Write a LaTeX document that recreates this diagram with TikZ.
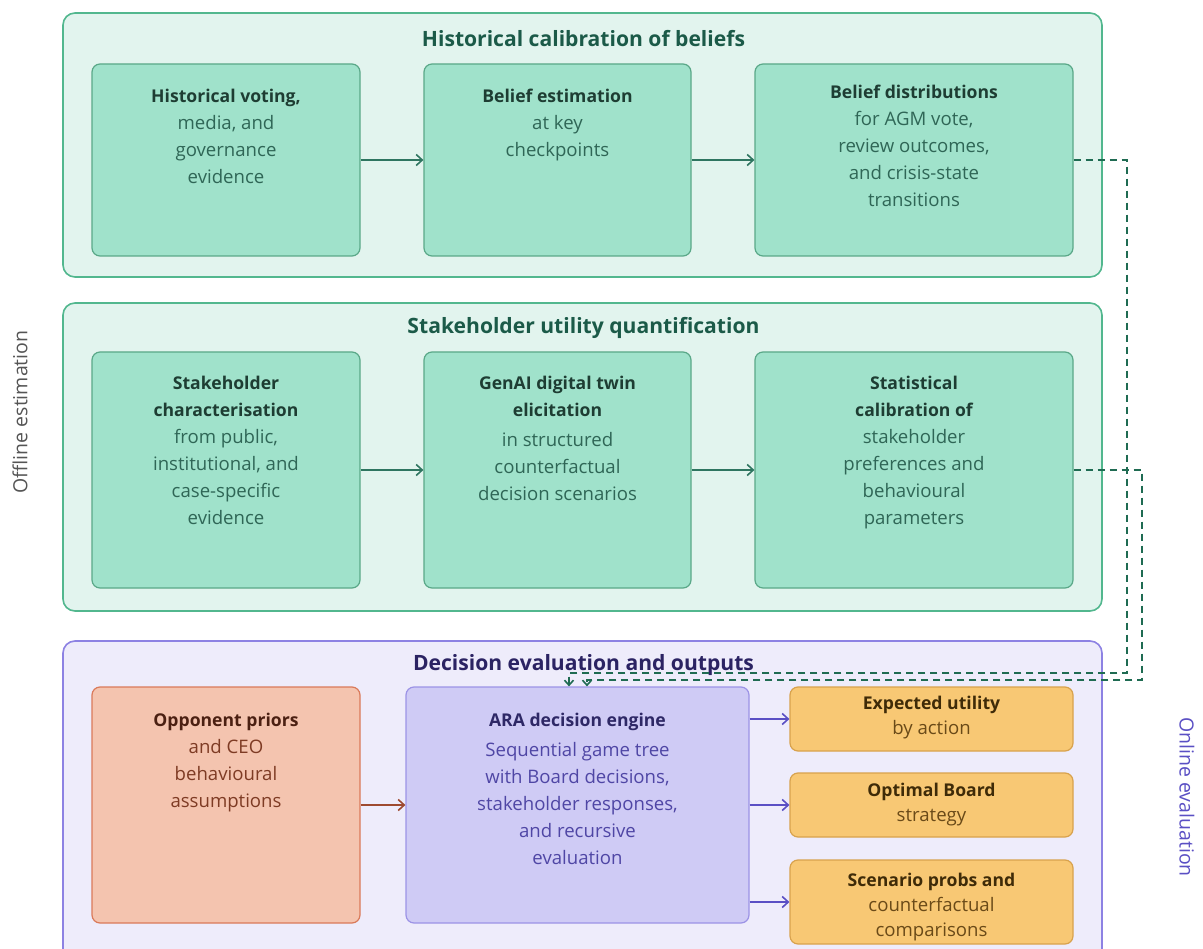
\documentclass[tikz,border=0pt]{standalone}
\usepackage{fontspec}
\setmainfont{Open Sans}
\usetikzlibrary{arrows.meta}
\definecolor{grpGfill}{HTML}{E2F4EE}
\definecolor{grpGdraw}{HTML}{52B78E}
\definecolor{boxGfill}{HTML}{A0E2CB}
\definecolor{boxGdraw}{HTML}{5AA888}
\definecolor{titleG}{HTML}{1B5A48}
\definecolor{boldG}{HTML}{1E3D33}
\definecolor{bodyG}{HTML}{2F6656}
\definecolor{arrG}{HTML}{2E7560}
\definecolor{dashG}{HTML}{1F6B52}
\definecolor{grpPfill}{HTML}{EEECFB}
\definecolor{grpPdraw}{HTML}{8D82E3}
\definecolor{titleP}{HTML}{2B2363}
\definecolor{araFill}{HTML}{CFCBF5}
\definecolor{araDraw}{HTML}{9C93E6}
\definecolor{boldP}{HTML}{2E2866}
\definecolor{bodyP}{HTML}{4F46A5}
\definecolor{arrP}{HTML}{5A4FC4}
\definecolor{oppFill}{HTML}{F4C4AF}
\definecolor{oppDraw}{HTML}{DA7A5A}
\definecolor{boldR}{HTML}{4B2012}
\definecolor{bodyR}{HTML}{7E3B24}
\definecolor{arrR}{HTML}{9E4A30}
\definecolor{outFill}{HTML}{F8C874}
\definecolor{outDraw}{HTML}{D8A24D}
\definecolor{boldO}{HTML}{3F2B08}
\definecolor{bodyO}{HTML}{6A4A18}
\definecolor{offGray}{HTML}{555555}
\newcommand{\hd}[2]{{\fontsize{17.6}{27}\selectfont\bfseries\color{#1}#2}}
\tikzset{
  grpG/.style={draw=grpGdraw, fill=grpGfill, line width=1.6pt, rounded corners=12pt},
  grpP/.style={draw=grpPdraw, fill=grpPfill, line width=1.6pt, rounded corners=12pt},
  boxbase/.style={line width=1.2pt, rounded corners=8pt, inner sep=0pt},
  gbox/.style={boxbase, draw=boxGdraw, fill=boxGfill},
  abox/.style={boxbase, draw=araDraw, fill=araFill},
  rbox/.style={boxbase, draw=oppDraw, fill=oppFill},
  obox/.style={boxbase, draw=outDraw, fill=outFill},
  txt/.style={align=center, inner sep=0pt, anchor=north, font=\fontsize{18.6}{27}\selectfont},
  grptitle/.style={inner sep=0pt, font=\fontsize{21.1}{24}\selectfont\bfseries},
  conn/.style={line width=1.6pt, -{Straight Barb[length=6pt, width=11pt, line width=1.6pt]}},
  dconn/.style={line width=1.8pt, dash pattern=on 7pt off 5pt, draw=dashG,
    -{Straight Barb[length=5pt, width=9pt, line width=1.6pt]}},
  side/.style={inner sep=0pt, font=\fontsize{19.5}{22}\selectfont}
}
\begin{document}
\begin{tikzpicture}[x=1pt,y=-1pt]
\useasboundingbox (0,0) rectangle (1203,949);
\fill[white] (0,0) rectangle (1203,949);

% groups
\path[grpG] (63,13) rectangle (1102,277);
\path[grpG] (63,303) rectangle (1102,611);
\path[grpP] (63,641) rectangle (1102,975);

\node[grptitle, text=titleG] (t1) at (583.5,39) {Historical calibration of beliefs};
\node[grptitle, text=titleG] (t2) at (583.5,328) {Stakeholder utility quantification};

% row 1
\node[gbox, minimum width=268pt, minimum height=192pt] (b11) at (226,160) {};
\node[gbox, minimum width=267pt, minimum height=192pt] (b12) at (557.5,160) {};
\node[gbox, minimum width=318pt, minimum height=192pt] (b13) at (914,160) {};
\node[txt, text=bodyG] (x11) at (226,89) {\hd{boldG}{Historical voting,}\\media, and\\governance\\evidence};
\node[txt, text=bodyG] (x12) at (557.5,89) {\hd{boldG}{Belief estimation}\\at key\\checkpoints};
\node[txt, text=bodyG] (x13) at (914,85) {\hd{boldG}{Belief distributions}\\for AGM vote,\\review outcomes,\\and crisis-state\\transitions};

% row 2
\node[gbox, minimum width=268pt, minimum height=236pt] (b21) at (226,470) {};
\node[gbox, minimum width=267pt, minimum height=236pt] (b22) at (557.5,470) {};
\node[gbox, minimum width=318pt, minimum height=236pt] (b23) at (914,470) {};
\node[txt, text=bodyG] (x21) at (226,376) {\hd{boldG}{Stakeholder}\\\hd{boldG}{characterisation}\\from public,\\institutional, and\\case-specific\\evidence};
\node[txt, text=bodyG] (x22) at (557.5,376) {\hd{boldG}{GenAI digital twin}\\\hd{boldG}{elicitation}\\[3pt]in structured\\counterfactual\\decision scenarios};
\node[txt, text=bodyG] (x23) at (914,376) {\hd{boldG}{Statistical}\\\hd{boldG}{calibration of}\\stakeholder\\preferences and\\behavioural\\parameters};

% row 3
\node[grptitle, text=titleP] (t3) at (583.5,665) {Decision evaluation and outputs};
\node[rbox, minimum width=268pt, minimum height=236pt] (opp) at (226,805) {};
\node[abox, minimum width=343pt, minimum height=236pt] (ara) at (577.5,805) {};
\node[obox, minimum width=283pt, minimum height=64pt] (o1) at (931.5,719) {};
\node[obox, minimum width=283pt, minimum height=64pt] (o2) at (931.5,805) {};
\node[obox, minimum width=283pt, minimum height=84pt] (o3) at (931.5,902) {};
\node[txt, text=bodyR] (xopp) at (226,713) {\hd{boldR}{Opponent priors}\\and CEO\\behavioural\\assumptions};
\node[txt, text=bodyP] (xara) at (577.5,713) {\hd{boldP}{ARA decision engine}\\[3pt]Sequential game tree\\with Board decisions,\\stakeholder responses,\\and recursive\\evaluation};
\node[txt, text=bodyO, font=\fontsize{18.6}{25}\selectfont] (xo1) at (931.5,696) {\hd{boldO}{Expected utility}\\by action};
\node[txt, text=bodyO, font=\fontsize{18.6}{25}\selectfont] (xo2) at (931.5,783) {\hd{boldO}{Optimal Board}\\strategy};
\node[txt, text=bodyO, font=\fontsize{18.6}{25}\selectfont] (xo3) at (931.5,873) {\hd{boldO}{Scenario probs and}\\counterfactual\\comparisons};

% side labels
\node[side, text=offGray, rotate=90] (off) at (20,412) {Offline estimation};
\node[side, text=arrP, rotate=-90] (on) at (1187,797) {Online evaluation};

% connectors
\draw[conn, draw=arrG] (b11.east) -- (b12.west);
\draw[conn, draw=arrG] (b12.east) -- (b13.west);
\draw[conn, draw=arrG] (b21.east) -- (b22.west);
\draw[conn, draw=arrG] (b22.east) -- (b23.west);
\draw[conn, draw=arrR] (opp.east) -- (ara.west);
\draw[conn, draw=arrP] (ara.east |- o1.west) -- (o1.west);
\draw[conn, draw=arrP] (ara.east |- o2.west) -- (o2.west);
\draw[conn, draw=arrP] (ara.east |- o3.west) -- (o3.west);

\coordinate (d1a) at (1127,160);
\coordinate (d1b) at (1127,673);
\coordinate (d1c) at (569,673);
\coordinate (d2a) at (1142,470);
\coordinate (d2b) at (1142,680);
\coordinate (d2c) at (587,680);
\draw[dconn] (b13.east) -- (d1a) -- (d1b) -- (d1c) -- (d1c |- ara.north);
\draw[dconn] (b23.east) -- (d2a) -- (d2b) -- (d2c) -- (d2c |- ara.north);
\end{tikzpicture}
\end{document}
